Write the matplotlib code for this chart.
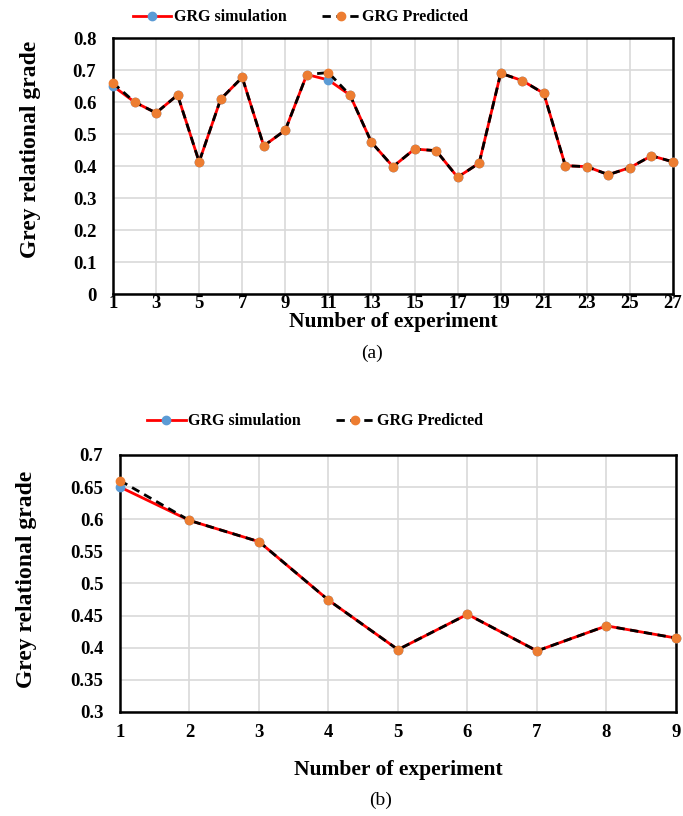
import matplotlib.pyplot as plt

plt.rcParams['font.family'] = ['Liberation Serif', 'DejaVu Serif']

# (a) all 27 experiments
exp_a = list(range(1, 28))
sim_a = [0.650, 0.600, 0.566, 0.622, 0.413, 0.609, 0.677, 0.463, 0.512, 0.686,
         0.669, 0.622, 0.474, 0.398, 0.453, 0.448, 0.365, 0.409, 0.690, 0.667,
         0.627, 0.401, 0.398, 0.373, 0.395, 0.432, 0.413]
pred_a = [0.660, 0.600, 0.566, 0.622, 0.413, 0.609, 0.677, 0.463, 0.512, 0.686,
          0.692, 0.622, 0.474, 0.398, 0.453, 0.448, 0.365, 0.409, 0.690, 0.667,
          0.627, 0.401, 0.398, 0.373, 0.395, 0.432, 0.413]

# (b) nine experiments
exp_b = list(range(1, 10))
sim_b = [0.650, 0.598, 0.565, 0.474, 0.397, 0.452, 0.395, 0.434, 0.415]
pred_b = [0.660, 0.598, 0.565, 0.474, 0.397, 0.452, 0.395, 0.434, 0.415]

fig = plt.figure(figsize=(6.83, 8.16), dpi=100)
ax1 = fig.add_axes([0.1654, 0.6397, 0.82, 0.3137])
ax2 = fig.add_axes([0.1757, 0.1275, 0.814, 0.315])


def draw(ax, x, sim, pred, ylim, ystep, xticks, leg_x, leg_y, xtpad, xpad, ylab_xy):
    ax.plot(x, sim, color='red', lw=2, marker='o', ms=6, mfc='#5b9bd5',
            mec='#5b9bd5', label='GRG simulation', clip_on=False, zorder=3)
    ax.plot(x, pred, color='black', lw=2, ls=(0, (3, 2)), marker='o', ms=6,
            mfc='#ed7d31', mec='#ed7d31', label='GRG Predicted', clip_on=False, zorder=4)
    ax.set_xlim(x[0], x[-1])
    ax.set_ylim(*ylim)
    ax.set_xticks(xticks)
    n = int(round((ylim[1] - ylim[0]) / ystep))
    yt = [ylim[0] + i * ystep for i in range(n + 1)]
    ax.set_yticks(yt)
    ax.set_yticklabels([('%g' % round(v, 2)) for v in yt])
    ax.grid(True, color='#d9d9d9', lw=1.2)
    ax.set_axisbelow(True)
    for s in ax.spines.values():
        s.set_color('black')
        s.set_linewidth(1.8)
    ax.tick_params(length=0, labelsize=13.5)
    ax.tick_params(axis='x', pad=xtpad)
    ax.tick_params(axis='y', pad=12)
    for lab in ax.get_xticklabels() + ax.get_yticklabels():
        lab.set_fontweight('bold')
    ax.set_xlabel('Number of experiment', fontsize=15.5, fontweight='bold', labelpad=xpad)
    ax.set_ylabel('Grey relational grade', fontsize=17, fontweight='bold')
    ax.yaxis.set_label_coords(*ylab_xy)
    ax.legend(loc='lower left', bbox_to_anchor=(leg_x, leg_y), ncol=2, frameon=False,
              prop={'size': 11.5, 'weight': 'bold'}, handlelength=2.4,
              handletextpad=0.15, columnspacing=2.2, borderaxespad=0, borderpad=0)


draw(ax1, exp_a, sim_a, pred_a, (0, 0.8), 0.1, list(range(1, 28, 2)),
     0.036, 1.05, 1, 0, (-0.128, 0.566))
draw(ax2, exp_b, sim_b, pred_b, (0.3, 0.7), 0.05, exp_b,
     0.049, 1.10, 9, 13, (-0.150, 0.514))

fig.text(0.545, 0.567, '(a)', ha='center', va='center', fontsize=14)
fig.text(0.557, 0.019, '(b)', ha='center', va='center', fontsize=14)

fig.savefig('out.png', dpi=100)
